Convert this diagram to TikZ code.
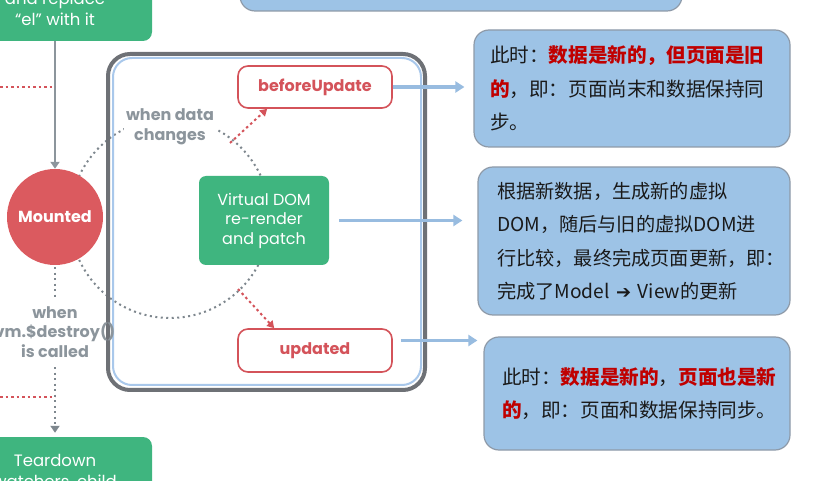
\documentclass[tikz,border=0pt]{standalone}
\usepackage{fontspec}
\setmainfont{Poppins}
\newfontfamily\cjk{Noto Sans CJK SC}
\newfontfamily\dejavu{DejaVu Sans}
\usetikzlibrary{arrows.meta,calc}
\definecolor{vgreen}{HTML}{3FB57F}
\definecolor{vred}{HTML}{DB5A5F}
\definecolor{nred}{HTML}{D4535A}
\definecolor{lgray}{HTML}{8C959C}
\definecolor{dgray}{HTML}{7E878E}
\definecolor{framegray}{HTML}{6E7176}
\definecolor{frameblue}{HTML}{A9C8EB}
\definecolor{boxblue}{HTML}{9DC3E6}
\definecolor{boxedge}{HTML}{8E9AA8}
\definecolor{arrowblue}{HTML}{98BCE0}
\definecolor{txtred}{HTML}{C00000}
\definecolor{txt}{HTML}{1A1A1A}
\tikzset{
  greenbox/.style={fill=vgreen, rounded corners=9pt, text=white, align=center,
    font=\fontsize{16.5}{21}\selectfont},
  hookbox/.style={draw=nred, line width=1.6pt, fill=white, rounded corners=10pt,
    minimum width=154pt, minimum height=42pt, text=nred, font=\bfseries\fontsize{16}{19}\selectfont},
  graylabel/.style={text=lgray, align=center, font=\bfseries\fontsize{16}{19.5}\selectfont},
  graydot/.style={draw=dgray, line width=2pt, dash pattern=on 2pt off 3.5pt},
  reddot/.style={draw=nred, line width=2pt, dash pattern=on 2.5pt off 3pt},
  bluebox/.style={fill=boxblue, draw=boxedge, line width=1.2pt, rounded corners=15pt,
    align=left, text=txt, font=\cjk\fontsize{19.6}{33.5}\selectfont},
  bluearrow/.style={draw=arrowblue, line width=3.5pt, -{Triangle[length=9pt,width=11pt]}},
  grayarrow/.style={draw=lgray, line width=2pt, -{Triangle[length=7pt,width=9pt]}},
}
\newcommand{\rb}[1]{\textcolor{txtred}{\bfseries #1}}
\begin{document}
\begin{tikzpicture}[x=1pt,y=-1pt]
\useasboundingbox (0,0) rectangle (831,481);
\clip (0,0) rectangle (831,481);

% top partial blue box
\node[bluebox, minimum width=442pt, minimum height=44pt] (topbox) at (461,-11) {};

% left green boxes
\node[greenbox, minimum width=194pt, minimum height=64pt] (gtop) at (55,9)
  {and replace\\“el” with it};
\node[greenbox, minimum width=194pt, minimum height=71pt] (gbot) at (55,472.5)
  {Teardown\\watchers, child};

% frame
\draw[fill=white, draw=none, rounded corners=22pt] (108,54) rectangle (425,390);
% dotted circle
\draw[graydot] (170,218) circle[radius=100pt];
\draw[draw=framegray, line width=4pt, rounded corners=22pt] (108,54) rectangle (425,390);
\draw[draw=frameblue, line width=2pt, rounded corners=19pt] (113,58) rectangle (421,385);

% nodes
\node[circle, fill=vred, minimum size=96pt, inner sep=0pt, text=white,
  font=\bfseries\fontsize{16}{19}\selectfont] (mounted) at (55,217) {Mounted};
\node[graylabel, fill=white, inner sep=2pt] (datalbl) at (170,127) {when data\\changes};
\node[graylabel] (destroylbl) at (55,332) {when\\vm.\$destroy()\\is called};
\node[greenbox, rounded corners=7pt, minimum width=130pt, minimum height=89pt,
  font=\fontsize{16}{19.5}\selectfont] (vdom) at (264,220.5) {Virtual DOM\\re-render\\and patch};
\node[hookbox] (bu) at (315,87) {beforeUpdate};
\node[hookbox, minimum height=43pt] (up) at (315,350.5) {updated};

% right explanation boxes
\node[bluebox, text width=284pt, inner xsep=16pt, minimum height=117pt] (b1) at (632,88.5)
  {此时：\rb{数据是新的，但页面是旧}\\\rb{的}，即：页面尚末和数据保持同\\步。};
\node[bluebox, text width=274pt, inner xsep=19pt, minimum height=148pt,
  font=\cjk\fontsize{19.2}{33.5}\selectfont] (b2) at (634,241)
  {根据新数据，生成新的虚拟\\DOM，随后与旧的虚拟DOM进\\行比较，最终完成页面更新，即：\\完成了Model {\dejavu\bfseries\fontsize{18}{20}\selectfont ➔} View的更新};
\node[bluebox, text width=270pt, inner xsep=18pt, minimum height=113pt] (b3) at (637,393.5)
  {此时：\rb{数据是新的}，\rb{页面也是新}\\\rb{的}，即：页面和数据保持同步。};

% left connectors
\coordinate (l1) at (0,87);
\coordinate (l2) at (0,397);
\draw[grayarrow] (gtop.south -| mounted.north) -- (mounted.north);
\draw[reddot] (l1) -- (l1 -| mounted.north);
\draw[graydot] ([yshift=-2pt]mounted.south) -- ([yshift=5pt]destroylbl.north);
\draw[graydot, -{Triangle[length=7pt,width=9pt]}, shorten >=4pt] ([yshift=-6pt]destroylbl.south) -- (gbot.north -| mounted.south);
\draw[reddot] (l2) -- (l2 -| mounted.south);

% red dotted arrows
\coordinate (c1) at (230,143);
\coordinate (c2) at (238,289);
\draw[reddot, -{Triangle[length=7pt,width=8pt]}] (c1) -- ($(bu.south west)+(30,0)$);
\draw[reddot, -{Triangle[length=7pt,width=8pt]}] (c2) -- ($(up.north west)+(37,0)$);

% blue arrows
\draw[bluearrow, shorten >=9pt] (bu.east) -- (bu.east -| b1.west);
\draw[bluearrow, shorten <=10pt, shorten >=15pt] (vdom.east) -- (vdom.east -| b2.west);
\draw[bluearrow, shorten <=8pt, shorten >=6pt] ([yshift=10pt]up.east) -- ([yshift=10pt]up.east -| b3.west);
\end{tikzpicture}
\end{document}
